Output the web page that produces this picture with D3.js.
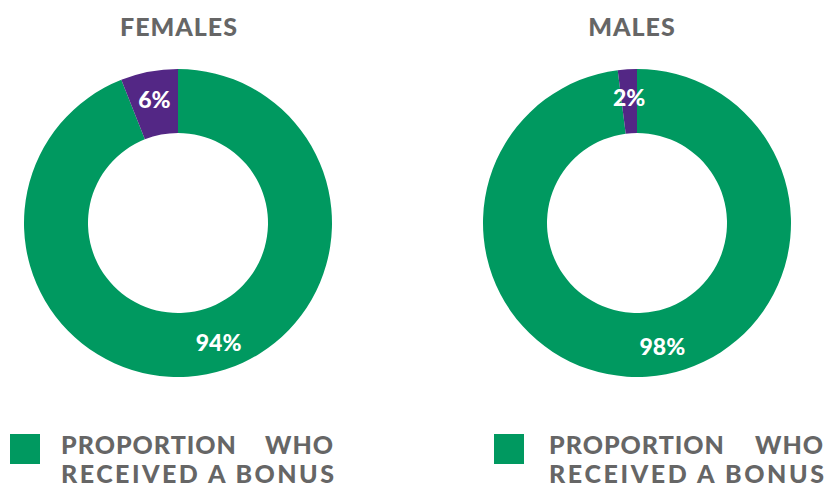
<!DOCTYPE html>
<html>
<head>
<meta charset="utf-8">
<script src="https://cdn.jsdelivr.net/npm/d3@7"></script>
<style>
  html, body { margin: 0; padding: 0; background: #ffffff; }
  svg { display: block; font-family: "Lato", "Open Sans", sans-serif; }
</style>
</head>
<body>
<div id="chart"></div>
<script>
'use strict';

// ---- data ----------------------------------------------------
const groups       = ['FEMALES', 'MALES'];
const bonusShare   = [94, 98];   // % who received a bonus
const noBonusShare = [6, 2];     // % who did not
const legendLines  = ['PROPORTION WHO', 'RECEIVED A BONUS'];

// ---- setup ---------------------------------------------------
const W = 828, H = 489;
const GREEN  = '#009960';
const PURPLE = '#532785';
const GREY   = '#666666';

const outerR = 154;
const innerR = 90;
const cy     = 223;

const svg = d3.select('#chart').append('svg')
    .attr('width', W)
    .attr('height', H);

// donut centres and legend left edges
const xCenter = d3.scalePoint()
    .domain(groups)
    .range([178, 637]);

const xLegend = d3.scalePoint()
    .domain(groups)
    .range([10, 494]);

const pie = d3.pie().sort(null).value(d => d.value);

const arc = d3.arc()
    .innerRadius(innerR)
    .outerRadius(outerR);

const labelR = (innerR + outerR) / 2 + 4;

groups.forEach((g, i) => {
    const cx = xCenter(g);
    const slices = pie([
        { key: 'bonus',   value: bonusShare[i],   colour: GREEN },
        { key: 'nobonus', value: noBonusShare[i], colour: PURPLE }
    ]);

    // title
    svg.append('text')
        .attr('x', cx + (i === 0 ? 1 : -5))
        .attr('y', 36)
        .attr('text-anchor', 'middle')
        .attr('font-size', 25)
        .attr('font-weight', 900)
        .attr('letter-spacing', 1)
        .attr('fill', GREY)
        .text(g);

    const donut = svg.append('g')
        .attr('transform', `translate(${cx},${cy})`);

    donut.selectAll('path')
        .data(slices)
        .join('path')
        .attr('d', arc)
        .attr('fill', d => d.data.colour);

    // percentage labels (big slice label nudged a little off its centroid)
    donut.selectAll('text')
        .data(slices)
        .join('text')
        .attr('transform', d => {
            let a = (d.startAngle + d.endAngle) / 2;
            if (d.data.key === 'bonus') a -= 8 * Math.PI / 180;
            const x = Math.sin(a) * labelR;
            const y = -Math.cos(a) * labelR;
            return `translate(${x},${y})`;
        })
        .attr('text-anchor', 'middle')
        .attr('dominant-baseline', 'central')
        .attr('font-size', 23)
        .attr('font-weight', 900)
        .attr('fill', '#ffffff')
        .text(d => d.data.value + '%');

    // legend
    const legend = svg.append('g')
        .attr('transform', `translate(${xLegend(g)},434)`);

    legend.append('rect')
        .attr('width', 30)
        .attr('height', 30)
        .attr('fill', GREEN);

    const textX = 51 + i * 4, textW = 273 + i * 2;
    const words = legendLines[0].split(' ');
    const line = sel => sel
        .attr('font-size', 25)
        .attr('font-weight', 900)
        .attr('fill', GREY);

    legend.append('text')
        .attr('x', textX)
        .attr('y', 20)
        .attr('letter-spacing', 1)
        .call(line)
        .text(words[0]);
    legend.append('text')
        .attr('x', textX + textW)
        .attr('y', 20)
        .attr('text-anchor', 'end')
        .attr('letter-spacing', 1)
        .call(line)
        .text(words[1]);
    legend.append('text')
        .attr('x', textX)
        .attr('y', 49)
        .attr('textLength', textW)
        .attr('lengthAdjust', 'spacing')
        .call(line)
        .text(legendLines[1]);
});
</script>
</body>
</html>
